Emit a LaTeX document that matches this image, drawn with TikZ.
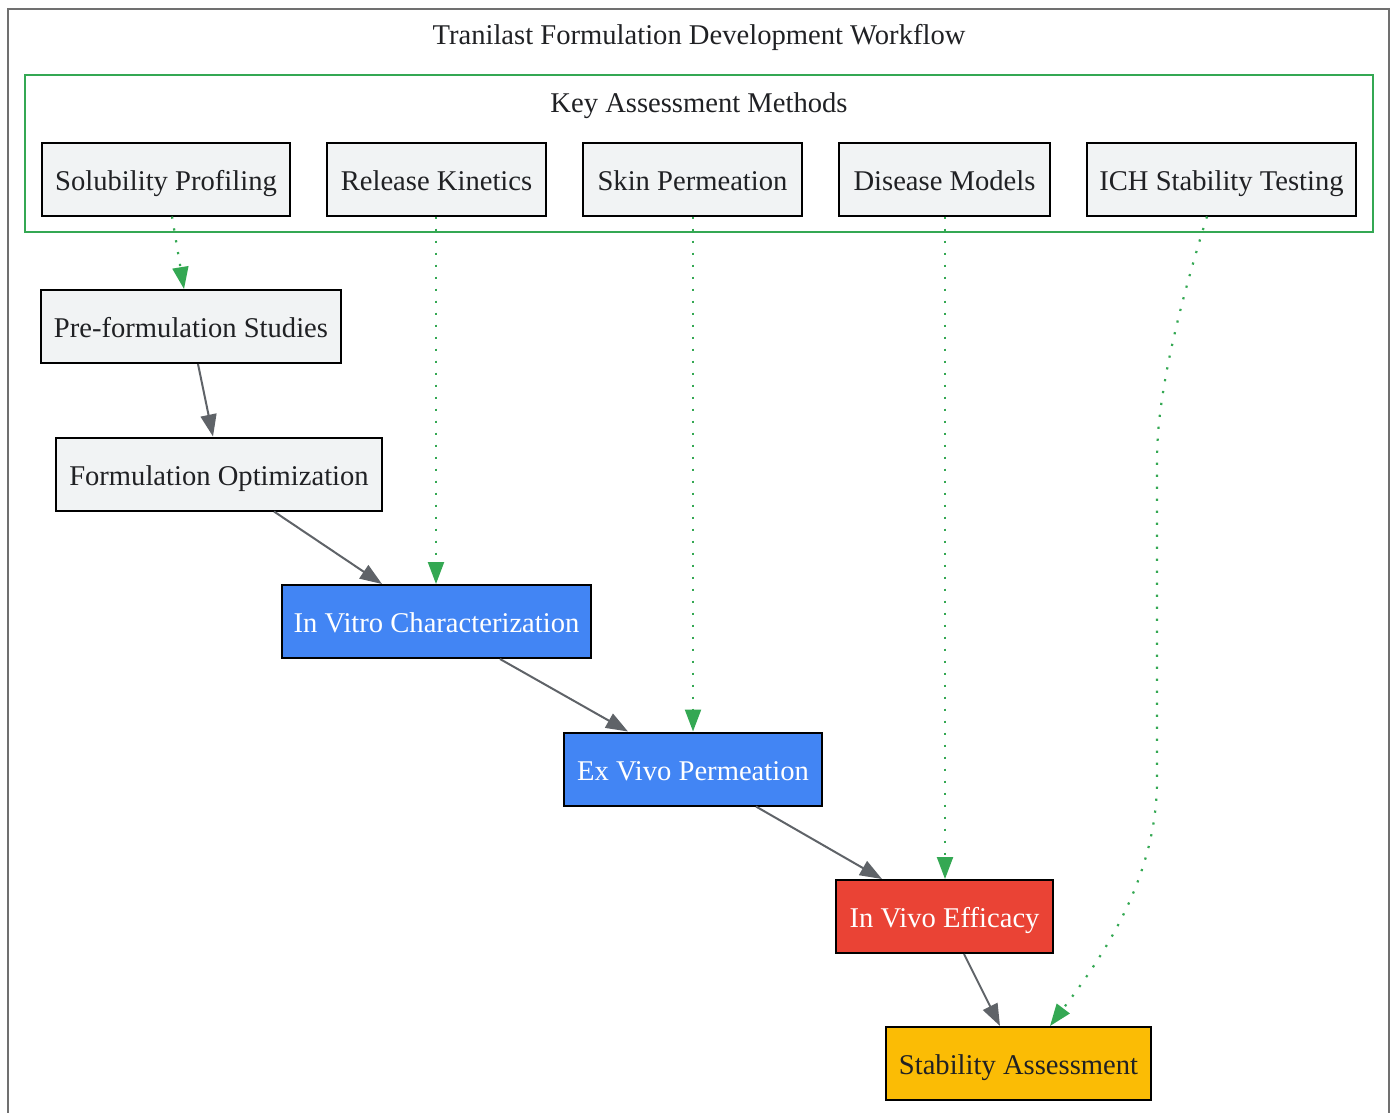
\documentclass[tikz,border=0pt]{standalone}
\usepackage{fontspec}
\setmainfont{Liberation Serif}
\usetikzlibrary{arrows.meta}
\definecolor{nodegray}{HTML}{F1F3F4}
\definecolor{txt}{HTML}{202124}
\definecolor{gblue}{HTML}{4285F4}
\definecolor{gred}{HTML}{EA4335}
\definecolor{gyellow}{HTML}{FBBC05}
\definecolor{ggreen}{HTML}{34A853}
\definecolor{edgegray}{HTML}{5F6368}
\definecolor{framegray}{HTML}{707070}
\tikzset{
  box/.style={draw=black, line width=2pt, fill=nodegray, text=txt, minimum height=73pt, inner sep=0pt, text height=25pt, text depth=3pt, font=\fontsize{28.6}{32}\selectfont},
  flow/.style={draw=edgegray, line width=2pt, -{Triangle[length=22pt,width=16pt]}},
  assess/.style={draw=ggreen, line width=2.2pt, dash pattern=on 2.2pt off 9.8pt, -{Triangle[length=22pt,width=16pt]}},
  lbl/.style={text=txt, anchor=base, inner sep=0pt, font=\fontsize{28.6}{32}\selectfont}
}
\begin{document}
\begin{tikzpicture}[x=1pt,y=-1pt]
\useasboundingbox (0,0) rectangle (1394,1112);
\clip (0,0) rectangle (1394,1112);
\draw[framegray, line width=2pt] (8,9) rectangle (1389,1130);
\node[lbl] (title) at (699,44) {Tranilast Formulation Development Workflow};
\draw[ggreen, line width=2pt] (25,75) rectangle (1373,232);
\node[lbl] (keytitle) at (699,112) {Key Assessment Methods};
% assessment nodes
\node[box, minimum width=248pt] (sol) at (166,179) {Solubility Profiling};
\node[box, minimum width=219pt] (rel) at (436.5,179) {Release Kinetics};
\node[box, minimum width=219pt] (skin) at (692.5,179) {Skin Permeation};
\node[box, minimum width=211pt] (dis) at (944.5,179) {Disease Models};
\node[box, minimum width=269pt] (ich) at (1221.5,179) {ICH Stability Testing};
% main flow
\node[box, minimum width=300pt] (pre) at (191,326.5) {Pre-formulation Studies};
\node[box, minimum width=326pt] (opt) at (219,474) {Formulation Optimization};
\node[box, minimum width=309pt, fill=gblue, text=white] (vitro) at (436.5,621.5) {In Vitro Characterization};
\node[box, minimum width=258pt, fill=gblue, text=white] (vivoex) at (693,769) {Ex Vivo Permeation};
\node[box, minimum width=217pt, fill=gred, text=white] (vivo) at (944.5,916.5) {In Vivo Efficacy};
\node[box, minimum width=265pt, fill=gyellow, text=txt] (stab) at (1018.5,1063.5) {Stability Assessment};
% flow edges
\draw[flow] (pre.south -| 198,0) -- (opt.north -| 213,0);
\draw[flow] (opt.south -| 274,0) -- (vitro.north -| 382,0);
\draw[flow] (vitro.south -| 500,0) -- (vivoex.north -| 628,0);
\draw[flow] (vivoex.south -| 756,0) -- (vivo.north -| 882,0);
\draw[flow] (vivo.south -| 964,0) -- (stab.north -| 1000,0);
% assessment edges
\draw[assess] (sol.south -| 172,0) -- (pre.north -| 184,0);
\draw[assess] (rel.south -| 436,0) -- (vitro.north -| 436,0);
\draw[assess] (skin.south -| 693,0) -- (vivoex.north -| 693,0);
\draw[assess] (dis.south -| 945,0) -- (vivo.north -| 945,0);
\draw[assess] (ich.south -| 1207,0) .. controls (1175,320) and (1157,400) .. (1157,460) -- (1157,780) .. controls (1157,880) and (1100,960) .. (stab.north -| 1050,0);
\end{tikzpicture}
\end{document}
